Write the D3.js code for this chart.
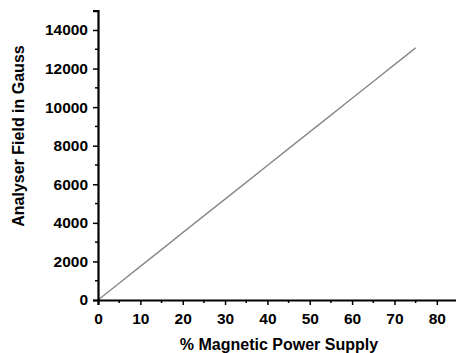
<!DOCTYPE html>
<html>
<head>
<meta charset="utf-8">
<script src="https://d3js.org/d3.v7.min.js"></script>
<style>
  body { margin: 0; background: #fff; }
  svg { display: block; font-family: "Liberation Sans", Arial, sans-serif; font-weight: bold; }
</style>
</head>
<body>
<svg width="456" height="353"></svg>
<script>
// data
const supply = [0, 5, 10, 15, 20, 25, 30, 35, 40, 45, 50, 55, 60, 65, 70, 75];
const field = [0, 870, 1745, 2615, 3490, 4360, 5230, 6100, 6975, 7845, 8715, 9590, 10460, 11330, 12200, 13070];
const xTicks = [0, 10, 20, 30, 40, 50, 60, 70, 80];
const yTicks = [0, 2000, 4000, 6000, 8000, 10000, 12000, 14000];

const svg = d3.select("svg");
const x = d3.scaleLinear().domain([0, 85]).range([98, 458]);
const y = d3.scaleLinear().domain([0, 15000]).range([300, 10.7]);

const pts = supply.map((s, i) => ({ s: s, f: field[i] }));
const line = d3.line().x(d => x(d.s)).y(d => y(d.f));

// the trace, a thin grey line
svg.append("path").datum(pts)
    .attr("d", line)
    .attr("fill", "none")
    .attr("stroke", "#999")
    .attr("stroke-width", 1.5);
svg.append("path").datum(pts)
    .attr("d", line)
    .attr("fill", "none")
    .attr("stroke", "#666")
    .attr("stroke-width", 0.4);

// minor ticks
const xMinor = d3.range(5, 85, 10);
const yMinor = d3.range(1000, 15000, 2000);

const gx = svg.append("g").attr("transform", "translate(0,300)");
gx.call(d3.axisBottom(x).tickValues(xTicks).tickSize(5).tickPadding(8).tickFormat(d3.format("d")));
gx.selectAll(".minor").data(xMinor).enter().append("line")
    .attr("x1", d => x(d)).attr("x2", d => x(d))
    .attr("y1", 0).attr("y2", 3)
    .attr("stroke", "#000").attr("stroke-width", 1.5);

const gy = svg.append("g").attr("transform", "translate(98,0)");
gy.call(d3.axisLeft(y).tickValues(yTicks).tickSize(5).tickPadding(5).tickFormat(d3.format("d")));
gy.selectAll(".minor").data(yMinor).enter().append("line")
    .attr("y1", d => y(d)).attr("y2", d => y(d))
    .attr("x1", 0).attr("x2", -3)
    .attr("stroke", "#000").attr("stroke-width", 1.5);

svg.selectAll(".domain").attr("stroke", "#000").attr("stroke-width", 2.2);
svg.selectAll(".tick line").attr("stroke", "#000").attr("stroke-width", 1.5);
svg.selectAll(".tick text")
    .attr("fill", "#000")
    .style("font-size", "15.5px")
    .style("font-weight", "bold")
    .style("font-family", "'Liberation Sans', Arial, sans-serif");

// axis titles
svg.append("text")
    .attr("x", 279).attr("y", 350)
    .attr("text-anchor", "middle")
    .style("font-size", "16px")
    .text("% Magnetic Power Supply");

svg.append("text")
    .attr("transform", "translate(24,136) rotate(-90)")
    .attr("text-anchor", "middle")
    .style("font-size", "16px")
    .text("Analyser Field in Gauss");
</script>
</body>
</html>
